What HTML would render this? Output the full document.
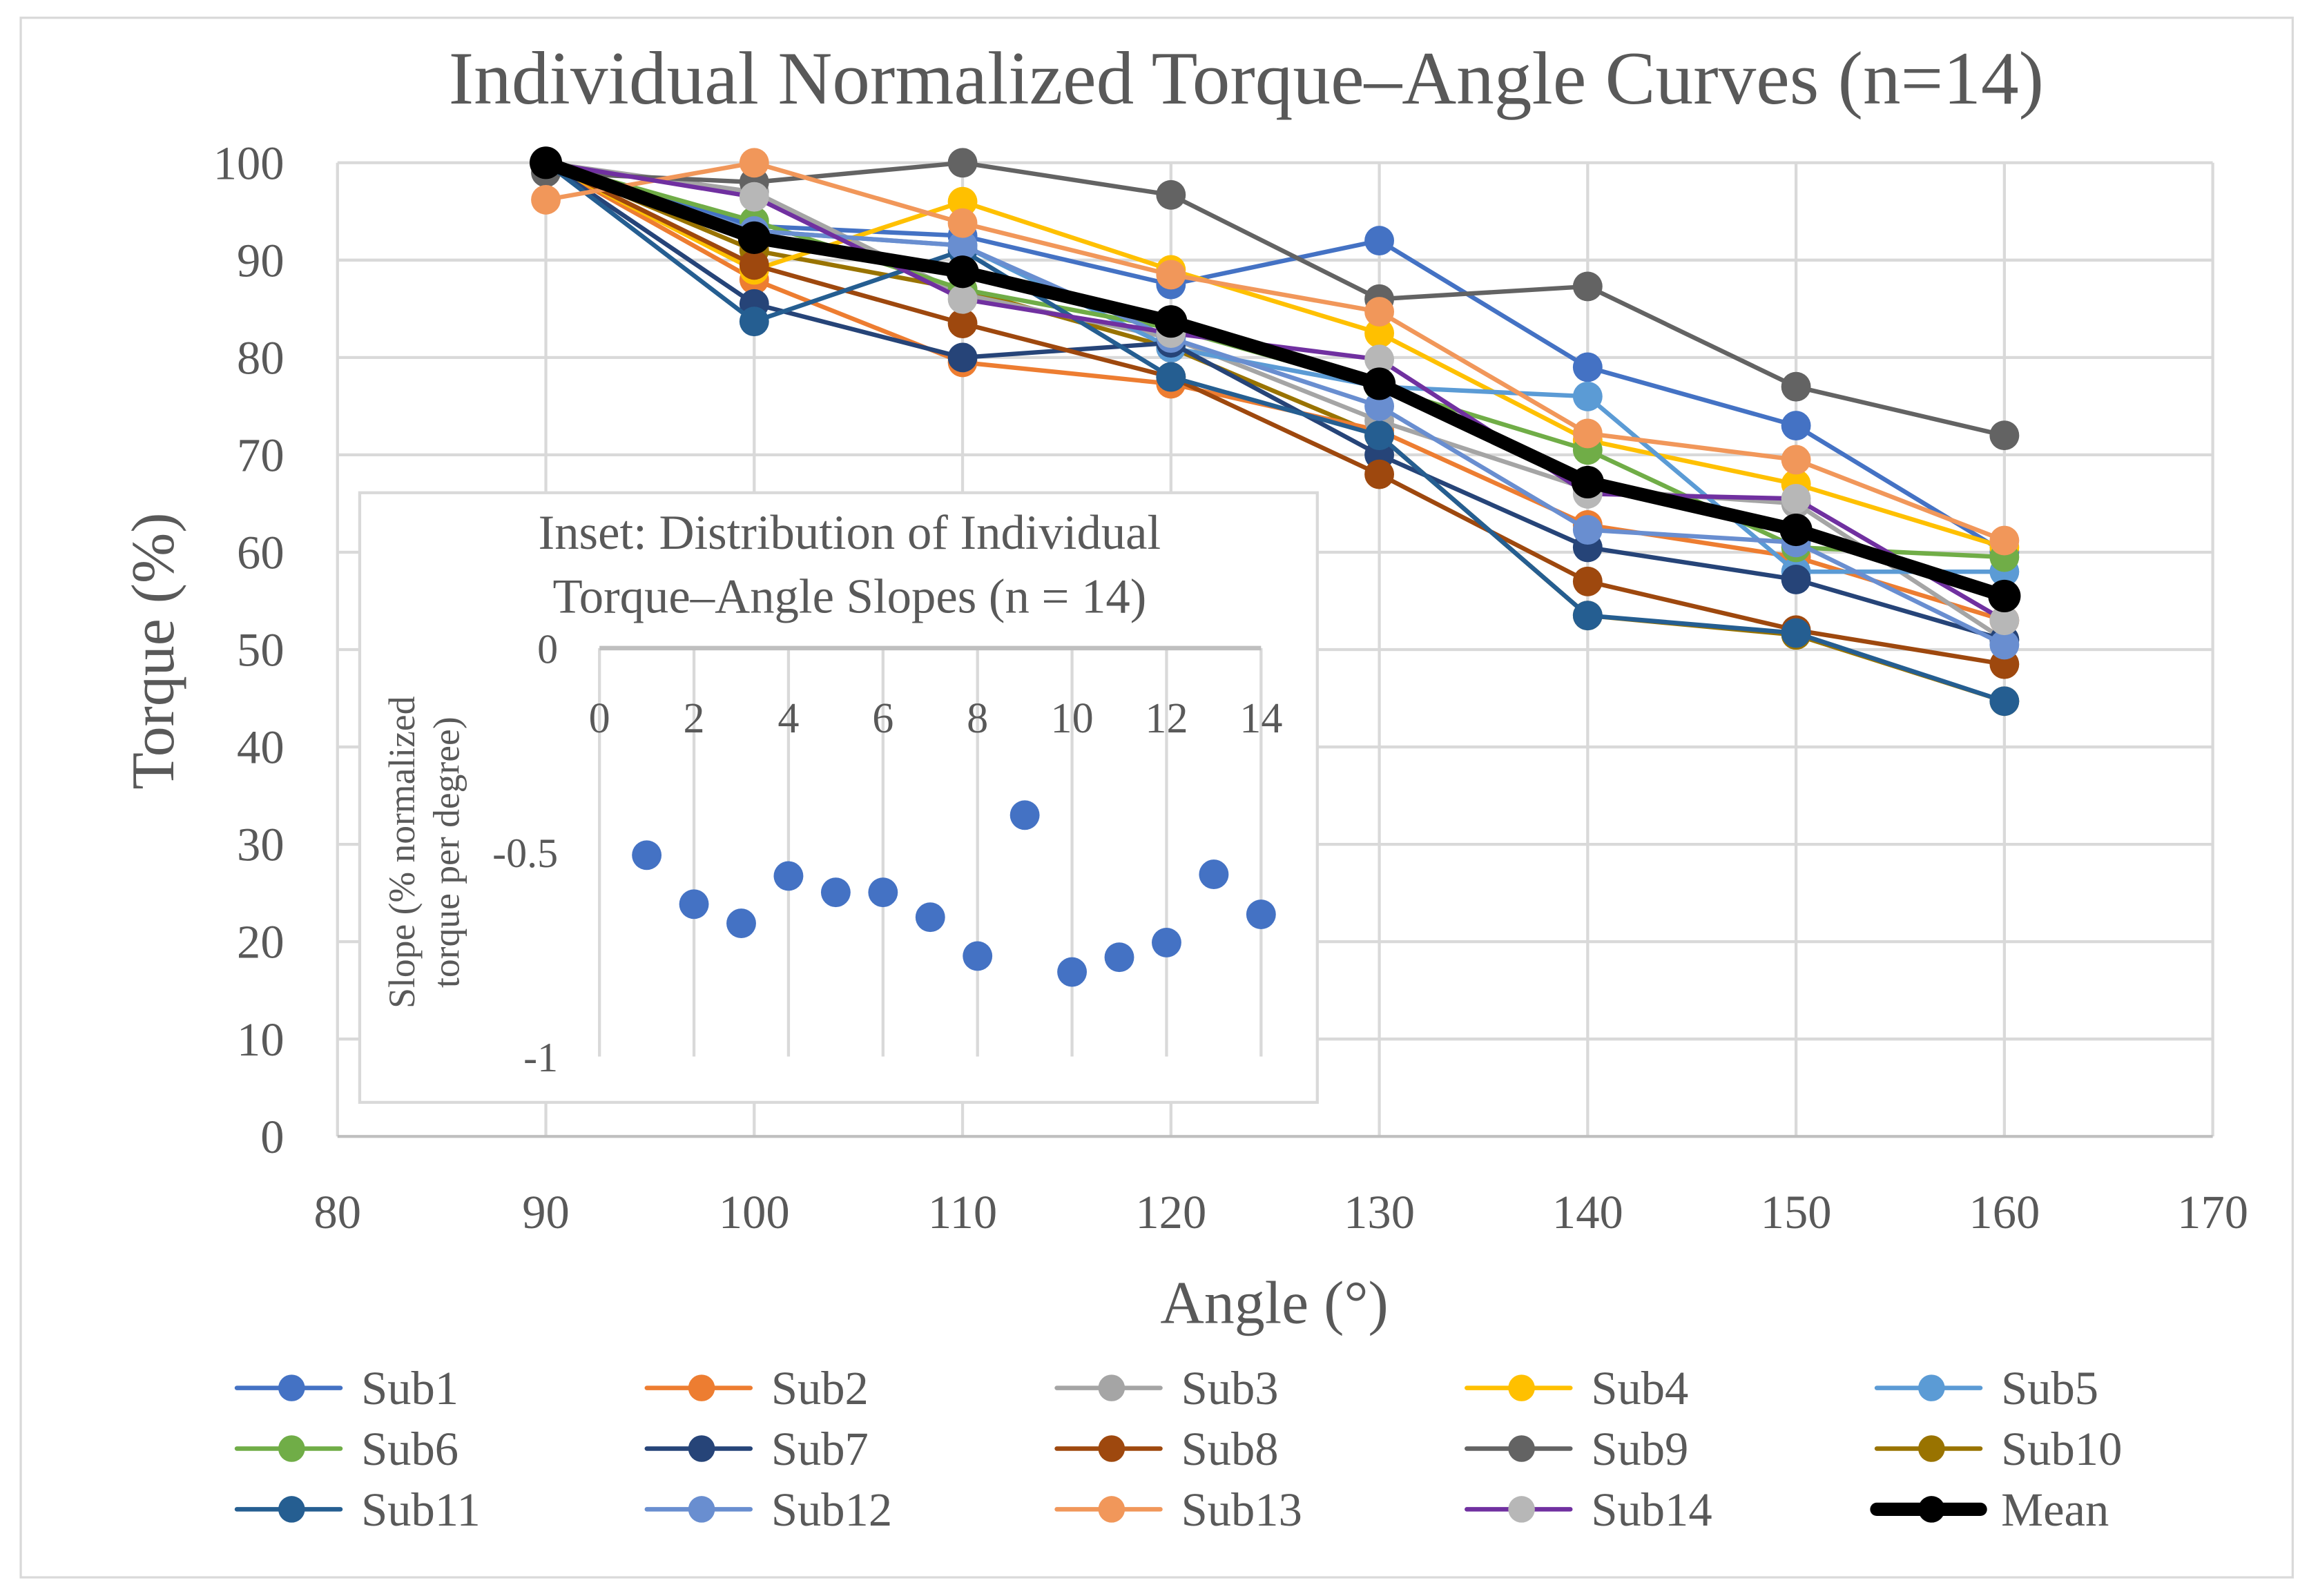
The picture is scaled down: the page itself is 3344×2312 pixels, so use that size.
<!DOCTYPE html>
<html><head><meta charset="utf-8"><style>
html,body{margin:0;padding:0;background:#fff;}
svg{display:block;}
text{font-family:"Liberation Serif",serif;fill:#595959;}
</style></head><body>
<svg id="chart" width="3344" height="2312" viewBox="0 0 1560 1078.6" xmlns="http://www.w3.org/2000/svg">
<rect x="14" y="12" width="1535" height="1054" fill="#fff" stroke="#d9d9d9" stroke-width="1.5"/>
<text x="842" y="70" font-size="51" text-anchor="middle">Individual Normalized Torque–Angle Curves (n=14)</text>
<g id="grid"></g>
<g id="series"></g>
<text transform="translate(117,440) rotate(-90)" font-size="41" text-anchor="middle">Torque (%)</text>
<text x="861" y="894" font-size="41" text-anchor="middle">Angle (°)</text>
<g id="inset"></g>
<g id="legend"></g>
</svg>
<script>
const angles=[90,100,110,120,130,140,150,160];
const xTicks=[80,90,100,110,120,130,140,150,160,170];
const yTicks=[0,10,20,30,40,50,60,70,80,90,100];
const seriesNames=["Sub1","Sub2","Sub3","Sub4","Sub5","Sub6","Sub7","Sub8","Sub9","Sub10","Sub11","Sub12","Sub13","Sub14","Mean"];
const sub1=[100,93.5,92.5,87.5,92,79,73,60];
const sub2=[100,88,79.5,77.3,72.5,62.8,59.5,53];
const sub3=[100,97,86.5,82,73.5,66.5,65,51];
const sub4=[100,89,96,89,82.5,71.5,67,60.5];
const sub5=[100,93,91.5,81,77,76,58,58];
const sub6=[100,94,87,83,77,70.5,60.5,59.5];
const sub7=[100,85.5,80,81.5,70,60.5,57.2,51];
const sub8=[100,89.5,83.5,78,68,57,52,48.5];
const sub9=[99,98,100,96.7,86,87.3,77,72];
const sub10=[100,91,87,81,72,53.5,51.5,44.7];
const sub11=[100,83.7,91,78,72,53.5,51.7,44.7];
const sub12=[100,93,91.5,82,75,62.3,61,50.5];
const sub13=[96.2,100,93.8,88.5,84.7,72.2,69.5,61.2];
const sub14=[100,96.5,86,82.5,79.8,66,65.5,53];
const mean=[100,92.3,88.8,83.7,77.3,67.2,62.3,55.5];
const insetX=[1,2,3,4,5,6,7,8,9,10,11,12,13,14];
const insetSlopes=[-0.507,-0.627,-0.674,-0.558,-0.598,-0.598,-0.659,-0.754,-0.409,-0.793,-0.757,-0.721,-0.554,-0.652];
const insetXTicks=[0,2,4,6,8,10,12,14];
const insetYTicks=[0,-0.5,-1];

const NS="http://www.w3.org/2000/svg";
function mk(tag,attrs,parent){const e=document.createElementNS(NS,tag);for(const k in attrs)e.setAttribute(k,attrs[k]);parent.appendChild(e);return e;}
const X=v=>228+(v-80)*(1495-228)/90;
const Y=v=>768-v*6.58;
const grid=document.getElementById('grid');
xTicks.forEach(t=>{
  const l=mk('line',{x1:X(t),x2:X(t),y1:110,y2:768,stroke:'#d9d9d9','stroke-width':2},grid);
  
  
  const tx=mk('text',{x:X(t),y:830,'font-size':32,'text-anchor':'middle'},grid);tx.textContent=t;
  
  
});
yTicks.forEach(t=>{
  const l=mk('line',{x1:228,x2:1495,y1:Y(t),y2:Y(t),stroke:t===0?'#bfbfbf':'#d9d9d9','stroke-width':2},grid);
  
  
  const tx=mk('text',{x:192,y:Y(t)+11,'font-size':32,'text-anchor':'end'},grid);tx.textContent=t;
  
  
});
const data=[sub1,sub2,sub3,sub4,sub5,sub6,sub7,sub8,sub9,sub10,sub11,sub12,sub13,sub14,mean];
const lineCol=["#4472C4","#ED7D31","#A5A5A5","#FFC000","#5B9BD5","#70AD47","#264478","#9E480E","#636363","#997300","#255E91","#698ED0","#F1975A","#7030A0","#000000"];
const markCol=["#4472C4","#ED7D31","#A5A5A5","#FFC000","#5B9BD5","#70AD47","#264478","#9E480E","#636363","#997300","#255E91","#698ED0","#F1975A","#B7B7B7","#000000"];
const sg=document.getElementById('series');
const order=[9,0,1,2,3,4,5,6,7,8,10,11,12,13,14];
order.forEach(i=>{
  const g=mk('g',{},sg);
  
  
  const pts=data[i].map((v,j)=>X(angles[j])+','+Y(v)).join(' ');
  const pl=mk('polyline',{points:pts,fill:'none',stroke:lineCol[i],'stroke-width':i===14?9:3,'stroke-linejoin':'round'},g);
  
  
  data[i].forEach((v,j)=>{
    const c=mk('circle',{cx:X(angles[j]),cy:Y(v),r:i===14?11:10,fill:markCol[i]},g);
    
    
  });
});
// inset
const ins=document.getElementById('inset');
const bx=mk('rect',{x:243,y:333,width:647,height:412,fill:'#fff',stroke:'#d9d9d9','stroke-width':2},ins);


const t1=mk('text',{x:574,y:371,'font-size':33,'text-anchor':'middle'},ins);t1.textContent='Inset: Distribution of Individual';


const t2=mk('text',{x:574,y:414,'font-size':33,'text-anchor':'middle'},ins);t2.textContent='Torque–Angle Slopes (n = 14)';


const IX=v=>405+v*(852-405)/14;
const IY=v=>438-v*276;
insetXTicks.forEach(t=>{
  const l=mk('line',{x1:IX(t),x2:IX(t),y1:438,y2:714,stroke:'#d9d9d9','stroke-width':2},ins);
  
  
  const tx=mk('text',{x:IX(t),y:495,'font-size':29,'text-anchor':'middle'},ins);tx.textContent=t;
  
  
});
const ax=mk('line',{x1:405,x2:852,y1:438,y2:438,stroke:'#bfbfbf','stroke-width':3},ins);


insetYTicks.forEach(t=>{
  const tx=mk('text',{x:377,y:IY(t)+10,'font-size':28,'text-anchor':'end'},ins);tx.textContent=t;
  
  
});
const yt=mk('text',{transform:'translate(280,576) rotate(-90)','font-size':25,'text-anchor':'middle'},ins);


const ts1=mk('tspan',{x:0,dy:0},yt);ts1.textContent='Slope (% normalized';
const ts2=mk('tspan',{x:0,dy:30},yt);ts2.textContent='torque per degree)';
insetX.forEach((x,i)=>{
  const c=mk('circle',{cx:IX(x),cy:IY(insetSlopes[i]),r:10,fill:'#4472C4'},ins);
  
  
});
// legend
const lg=document.getElementById('legend');
seriesNames.forEach((n,i)=>{
  const col=i%5,row=Math.floor(i/5);
  const x0=160+col*277,y0=938+row*41;
  const g=mk('g',{},lg);
  
  
  mk('line',{x1:x0,x2:x0+70,y1:y0,y2:y0,stroke:lineCol[i],'stroke-width':i===14?9:3,'stroke-linecap':'round'},g);
  mk('circle',{cx:x0+37,cy:y0,r:9,fill:markCol[i]},g);
  const tx=mk('text',{x:x0+84,y:y0+11,'font-size':32},g);tx.textContent=n;
});
</script>
</body></html>
